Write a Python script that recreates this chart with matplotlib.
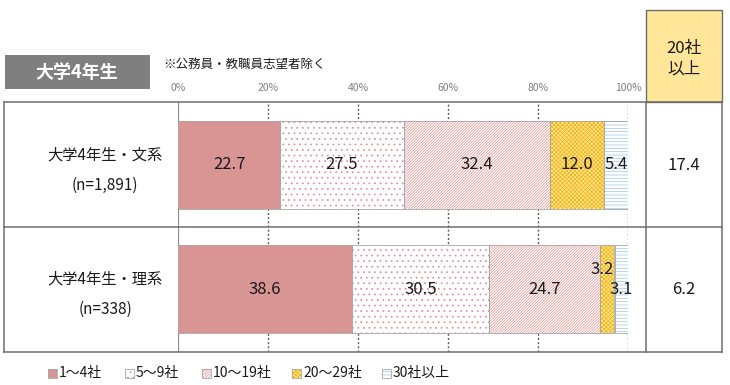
import matplotlib.pyplot as plt
from matplotlib.lines import Line2D
from matplotlib.patches import Rectangle

plt.rcParams['font.family'] = ['Noto Sans CJK JP', 'DejaVu Sans']
plt.rcParams['hatch.linewidth'] = 0.5

# data
rows = ["大学4年生・文系", "大学4年生・理系"]
ns = ["(n=1,891)", "(n=338)"]
categories = ["1～4社", "5～9社", "10～19社", "20～29社", "30社以上"]
values = [
    [22.7, 27.5, 32.4, 12.0, 5.4],
    [38.6, 30.5, 24.7, 3.2, 3.1],
]
over20 = [17.4, 6.2]
ticks = [0, 20, 40, 60, 80, 100]

faces = ["#d99594", "white", "white", "#ffe680", "white"]
hatch_cols = ["#d99594", "#e58a8a", "#e39090", "#f0b020", "#9dc3e6"]
hatches = [None, "...", "/" * 12, "x" * 8, "-" * 5]

W, H = 730, 385
fig = plt.figure(figsize=(W / 100, H / 100), dpi=100)


def fx(px):
    return px / W


def fy(py):
    return 1 - py / H


# bar axes: 0% at x=178, 100% at x=628, table y 102..352
ax = fig.add_axes([fx(178), fy(352), fx(628) - fx(178), fy(102) - fy(352)])
ax.set_xlim(0, 100)
ax.set_ylim(1.508, -0.508)
ax.axis("off")

for t in ticks[1:]:
    ax.axvline(t, color="#606060", lw=1.0, ls=(0, (1.5, 1.5)), zorder=0)
ax.axvline(0, color="#8c8c8c", lw=1.6, zorder=0)

bh = 0.71
for i, row in enumerate(values):
    left = 0
    for j, v in enumerate(row):
        ax.barh(i, v, left=left, height=bh, color=faces[j], edgecolor=hatch_cols[j],
                hatch=hatches[j], linewidth=0, zorder=2)
        ax.barh(i, v, left=left, height=bh, fill=False, edgecolor="#a6a6a6",
                linewidth=0.6, zorder=3)
        cx, cy = left + v / 2, i
        if v < 4 and j == 3:
            cx, cy = left + v / 2 - 1.2, i - 0.16
        ax.text(cx, cy, f"{v:.1f}", ha="center", va="center", fontsize=12,
                color="#1a1a1a", zorder=4)
        left += v

for t in ticks:
    fig.text(fx(178 + 4.5 * t), fy(88), f"{t}%", ha="center", va="center",
             fontsize=7.5, color="#7f7f7f")

# table lines
lc = "#6e6e6e"
for py in [102, 227, 352]:
    fig.add_artist(Line2D([fx(4), fx(722)], [fy(py), fy(py)], color=lc, lw=1.1))
for px in [4, 646, 722]:
    fig.add_artist(Line2D([fx(px), fx(px)], [fy(102), fy(352)], color=lc, lw=1.1))

# 20社以上 header box
fig.add_artist(Rectangle((fx(646), fy(102)), fx(722) - fx(646), fy(10) - fy(102),
                         facecolor="#ffe699", edgecolor=lc, lw=1.0))
fig.text(fx(684), fy(48), "20社", ha="center", va="center", fontsize=12, color="#1a1a1a")
fig.text(fx(684), fy(69), "以上", ha="center", va="center", fontsize=12, color="#1a1a1a")

# title box
fig.add_artist(Rectangle((fx(5), fy(89)), fx(150) - fx(5), fy(55) - fy(89),
                         facecolor="#7f7f7f", edgecolor="none"))
fig.text(fx(77), fy(72), "大学4年生", ha="center", va="center", fontsize=13,
         color="white", fontweight="bold")
fig.text(fx(163), fy(64), "※公務員・教職員志望者除く", ha="left", va="center",
         fontsize=9, color="#1a1a1a")

row_cy = [165, 289]
for i in range(2):
    fig.text(fx(105), fy(row_cy[i] - 10), rows[i], ha="center", va="center",
             fontsize=11, color="#1a1a1a")
    fig.text(fx(105), fy(row_cy[i] + 20), ns[i], ha="center", va="center",
             fontsize=11, color="#1a1a1a")
    fig.text(fx(684), fy(row_cy[i]), f"{over20[i]:.1f}", ha="center", va="center",
             fontsize=12, color="#1a1a1a")

# legend (manual placement to match the original layout)
leg_x = [48, 125, 202, 292, 382]
sq = 9
for j, name in enumerate(categories):
    x0 = leg_x[j]
    box = (fx(x0), fy(373 + sq / 2))
    fig.add_artist(Rectangle(box, fx(sq), fy(0) - fy(sq), facecolor=faces[j],
                             edgecolor=hatch_cols[j], hatch=hatches[j], lw=0))
    fig.add_artist(Rectangle(box, fx(sq), fy(0) - fy(sq), fill=False,
                             edgecolor="#a6a6a6", lw=0.6))
    fig.text(fx(x0 + sq + 2), fy(373), name, ha="left", va="center",
             fontsize=10, color="#1a1a1a")

fig.savefig("out.png", dpi=100)
